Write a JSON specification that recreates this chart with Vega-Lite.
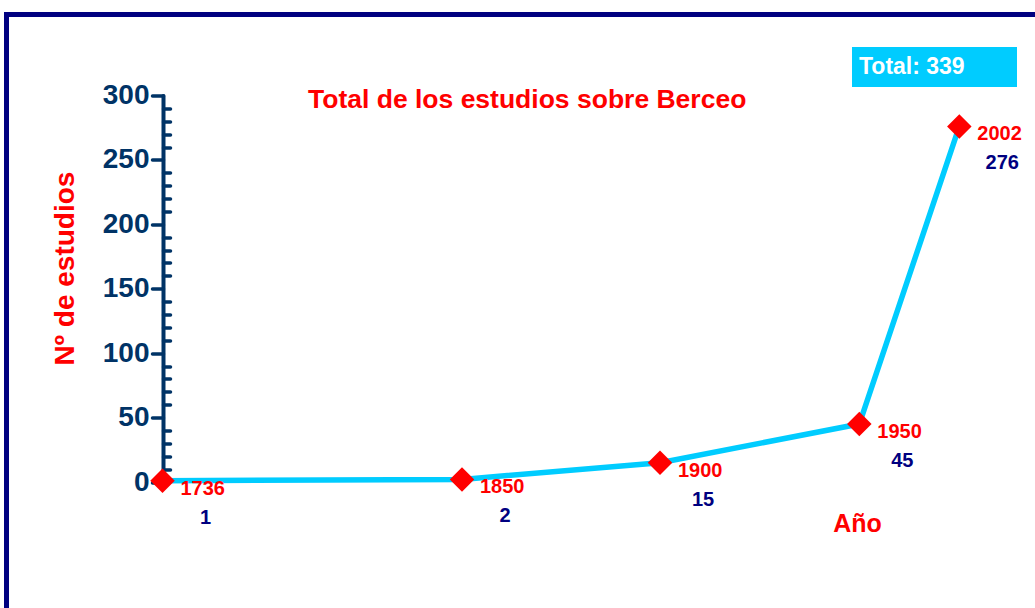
{
  "$schema": "https://vega.github.io/schema/vega-lite/v6.json",
  "width": 1032,
  "height": 597.5,
  "autosize": "none",
  "padding": {"left": 6.5, "top": 14.5, "right": -3.5, "bottom": -4},
  "background": "white",
  "config": {
    "view": {"stroke": "#000080", "strokeWidth": 5},
    "font": "Liberation Sans"
  },
  "title": {
    "text": "Total de los estudios sobre Berceo",
    "color": "#FF0000",
    "fontSize": 26.5,
    "fontWeight": "bold",
    "font": "Liberation Sans",
    "anchor": "start",
    "frame": "group",
    "dx": 301.5,
    "baseline": "middle",
    "offset": -111.5
  },
  "data": {
    "values": [
      {"year": 1736, "estudios": 1, "serie": "Total: 339"},
      {"year": 1850, "estudios": 2, "serie": "Total: 339"},
      {"year": 1900, "estudios": 15, "serie": "Total: 339"},
      {"year": 1950, "estudios": 45, "serie": "Total: 339"},
      {"year": 2002, "estudios": 276, "serie": "Total: 339"}
    ]
  },
  "encoding": {
    "x": {
      "field": "year",
      "type": "quantitative",
      "scale": {"domain": [1736, 1850, 1900, 1950, 2002], "range": [156, 455.5, 653.5, 852.8, 952.8], "nice": false, "zero": false},
      "axis": {
        "title": "Año",
        "domain": false,
        "ticks": false,
        "labels": false,
        "grid": false,
        "titleColor": "#FF0000",
        "titleFont": "Liberation Sans",
        "titleFontSize": 25,
        "titleFontWeight": "bold",
        "titleX": 850.5,
        "titleY": -89,
        "titleAlign": "center",
        "titleBaseline": "middle"
      }
    },
    "y": {
      "field": "estudios",
      "type": "quantitative",
      "scale": {"domain": [0, 300], "range": [467.5, 81], "nice": false, "zero": false},
      "axis": {
        "title": "Nº de estudios",
        "values": [0,10,20,30,40,50,60,70,80,90,100,110,120,130,140,150,160,170,180,190,200,210,220,230,240,250,260,270,280,290,300],
        "offset": -156.5,
        "grid": false,
        "domainColor": "#003366",
        "domainWidth": 4,
        "domainCap": "round",
        "tickColor": "#003366",
        "tickWidth": 3.5,
        "tickCap": "round",
        "tickSize": {"condition": {"test": "datum.value % 50 === 0", "value": 11}, "value": -7},
        "labelExpr": "datum.value % 50 === 0 ? datum.label : ''",
        "labelOverlap": false,
        "labelColor": "#003366",
        "labelFont": "Liberation Sans",
        "labelFontSize": 28,
        "labelFontWeight": "bold",
        "labelPadding": 3,
        "titleColor": "#FF0000",
        "titleFont": "Liberation Sans",
        "titleFontSize": 28,
        "titleFontWeight": "bold",
        "titleAngle": 270,
        "titleX": -98,
        "titleY": 253.5,
        "titleAlign": "center",
        "titleBaseline": "middle"
      }
    }
  },
  "layer": [
    {
      "mark": {"type": "line", "strokeWidth": 5.5},
      "encoding": {
        "color": {
          "field": "serie",
          "type": "nominal",
          "scale": {"range": ["#00CCFF"]},
          "legend": {
            "title": null,
            "orient": "none",
            "legendX": 845.5,
            "legendY": 32.5,
            "fillColor": "#00CCFF",
            "padding": 8,
            "symbolType": "square",
            "symbolSize": 100,
            "symbolOffset": 132,
            "symbolOpacity": 0,
            "symbolStrokeWidth": 0,
            "labelOffset": -156,
            "labelAlign": "left",
            "labelBaseline": "middle",
            "labelColor": "white",
            "labelFont": "Liberation Sans",
            "labelFontSize": 23,
            "labelFontWeight": "bold"
          }
        }
      }
    },
    {
      "mark": {"type": "point", "shape": "diamond", "filled": true, "size": 600, "color": "#FF0000", "opacity": 1}
    },
    {
      "mark": {"type": "text", "align": "left", "baseline": "middle", "dx": 18, "dy": 8, "color": "#FF0000", "fontSize": 20, "fontWeight": "bold", "font": "Liberation Sans"},
      "encoding": {"text": {"field": "year", "type": "quantitative", "format": "d"}}
    },
    {
      "mark": {"type": "text", "align": "center", "baseline": "middle", "dx": 43, "dy": 37, "color": "#000080", "fontSize": 20, "fontWeight": "bold", "font": "Liberation Sans"},
      "encoding": {"text": {"field": "estudios", "type": "quantitative"}}
    }
  ]
}
